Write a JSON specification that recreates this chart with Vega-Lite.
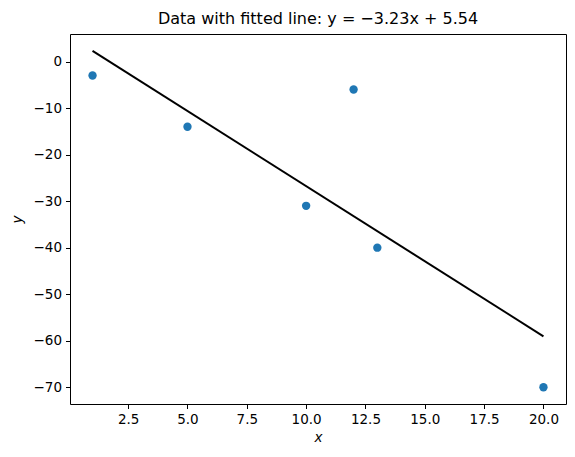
{
  "$schema": "https://vega.github.io/schema/vega-lite/v6.json",
  "autosize": "none",
  "width": 496,
  "height": 370,
  "padding": {"left": 70, "top": 34, "right": 9, "bottom": 53},
  "background": "white",
  "config": {
    "font": "DejaVu Sans",
    "view": {"stroke": "black", "strokeWidth": 1},
    "axis": {
      "grid": false,
      "domain": false,
      "tickColor": "black",
      "tickSize": 4.5,
      "tickWidth": 1,
      "labelColor": "black",
      "labelFontSize": 13.5,
      "labelPadding": 4,
      "titleColor": "black",
      "titleFontSize": 13.5,
      "titleFontWeight": "normal",
      "titleFontStyle": "italic",
      "labelFlush": false,
      "labelOverlap": false
    }
  },
  "title": {
    "text": "Data with fitted line: y = −3.23x + 5.54",
    "fontSize": 16,
    "fontWeight": "normal",
    "color": "black",
    "offset": 7,
    "anchor": "middle"
  },
  "datasets": {
    "pts": [
      {"x": 1, "y": -3},
      {"x": 5, "y": -14},
      {"x": 10, "y": -31},
      {"x": 12, "y": -6},
      {"x": 13, "y": -40},
      {"x": 20, "y": -70}
    ],
    "fit": [
      {"x": 1, "y": 2.31},
      {"x": 20, "y": -59.06}
    ]
  },
  "layer": [
    {
      "data": {"name": "fit"},
      "mark": {"type": "line", "color": "black", "strokeWidth": 2},
      "encoding": {
        "x": {"field": "x", "type": "quantitative",
              "scale": {"domain": [0.05, 20.95], "nice": false, "zero": false},
              "axis": {"values": [2.5, 5, 7.5, 10, 12.5, 15, 17.5, 20], "format": ".1f", "title": "x", "titlePadding": 4}},
        "y": {"field": "y", "type": "quantitative",
              "scale": {"domain": [-73.6, 5.93], "nice": false, "zero": false},
              "axis": {"values": [-70, -60, -50, -40, -30, -20, -10, 0], "format": "d", "title": "y", "titlePadding": 9}}
      }
    },
    {
      "data": {"name": "pts"},
      "mark": {"type": "point", "filled": true, "color": "#1f77b4", "opacity": 1, "size": 70},
      "encoding": {
        "x": {"field": "x", "type": "quantitative"},
        "y": {"field": "y", "type": "quantitative"}
      }
    }
  ]
}
